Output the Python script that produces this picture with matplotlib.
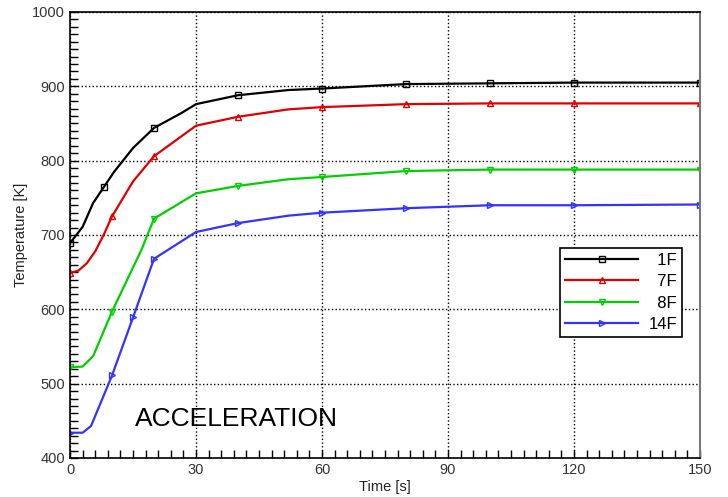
import numpy as np
import matplotlib
matplotlib.use('Agg')
from matplotlib import pyplot as plt
from matplotlib.ticker import MultipleLocator

plt.rcParams['font.family'] = ['Liberation Sans', 'DejaVu Sans']

# curve vertices
x_1f = [0, 3, 5.5, 8, 10.5, 15, 20, 26.5, 30, 40, 52, 60, 80, 100, 120, 150]
t_1f = [689, 711, 743, 764, 785, 817, 844, 864, 876, 888, 895, 897, 903, 904, 905, 905]
m_1f = [0, 8, 20, 40, 60, 80, 100, 120, 150]

x_7f = [0, 2, 4, 6, 8, 10, 15, 20, 30, 40, 52, 60, 80, 100, 120, 150]
t_7f = [649, 652, 662, 678, 700, 725, 772, 806, 847, 859, 869, 872, 876, 877, 877, 877]
m_7f = [0, 10, 20, 40, 60, 80, 100, 120, 150]

x_8f = [0, 3, 5.5, 10, 17, 20, 30, 40, 52, 60, 80, 100, 120, 150]
t_8f = [522, 523, 537, 597, 680, 722, 756, 766, 775, 778, 786, 788, 788, 788]
m_8f = [0, 10, 20, 40, 60, 80, 100, 120, 150]

x_14f = [0, 3, 5, 10, 15, 20, 30, 40, 52, 60, 80, 100, 120, 150]
t_14f = [434, 434, 443, 511, 589, 668, 704, 716, 726, 730, 736, 740, 740, 741]
m_14f = [0, 10, 15, 20, 40, 60, 80, 100, 120, 150]

# leading spaces keep the short labels right-aligned like the original legend
series = [
    ('  1F', x_1f, t_1f, m_1f, 'black', 's'),
    ('  7F', x_7f, t_7f, m_7f, '#e00000', '^'),
    ('  8F', x_8f, t_8f, m_8f, '#00d000', 'v'),
    ('14F', x_14f, t_14f, m_14f, '#3333ff', '>'),
]

fig = plt.figure(figsize=(7.28, 4.97), dpi=100)
ax = fig.add_axes([0.0962, 0.0785, 0.8653, 0.8974])

for name, x, y, mx, col, mk in series:
    idx = list(np.where(np.isin(x, mx))[0])
    ax.plot(x, y, color=col, lw=1.6, marker=mk, markevery=idx, ms=5,
            mfc='none', mec=col, mew=1.0, label=name)

ax.set_xlim(0, 150)
ax.set_ylim(400, 1000)
ax.xaxis.set_major_locator(MultipleLocator(30))
ax.xaxis.set_minor_locator(MultipleLocator(3))
ax.yaxis.set_major_locator(MultipleLocator(100))
ax.yaxis.set_minor_locator(MultipleLocator(10))
ax.tick_params(which='both', direction='in', length=6, width=1, top=False, right=False,
               labelsize=10.5, labelcolor='#333333')
ax.grid(True, which='major', color='black', linestyle=':', lw=1)
for s in ['left', 'bottom', 'top']:
    ax.spines[s].set_linewidth(1.2)
ax.spines['right'].set_color('#777777')
ax.spines['right'].set_linewidth(1.5)

ax.set_xlabel('Time [s]', fontsize=10.5, color='#222222', labelpad=2)
ax.set_ylabel('Temperature [K]', fontsize=10.5, color='#222222', labelpad=3)

ax.text(15.5, 453, 'ACCELERATION', fontsize=19, va='center', ha='left')

leg = ax.legend(loc='upper left', bbox_to_anchor=(0.778, 0.471), borderaxespad=0,
                fontsize=12, frameon=True, fancybox=False, edgecolor='black',
                framealpha=1, handlelength=4.4, borderpad=0.3, labelspacing=0.38,
                handletextpad=0.6)
leg.get_frame().set_linewidth(1.2)

fig.savefig('out.png', dpi=100)
